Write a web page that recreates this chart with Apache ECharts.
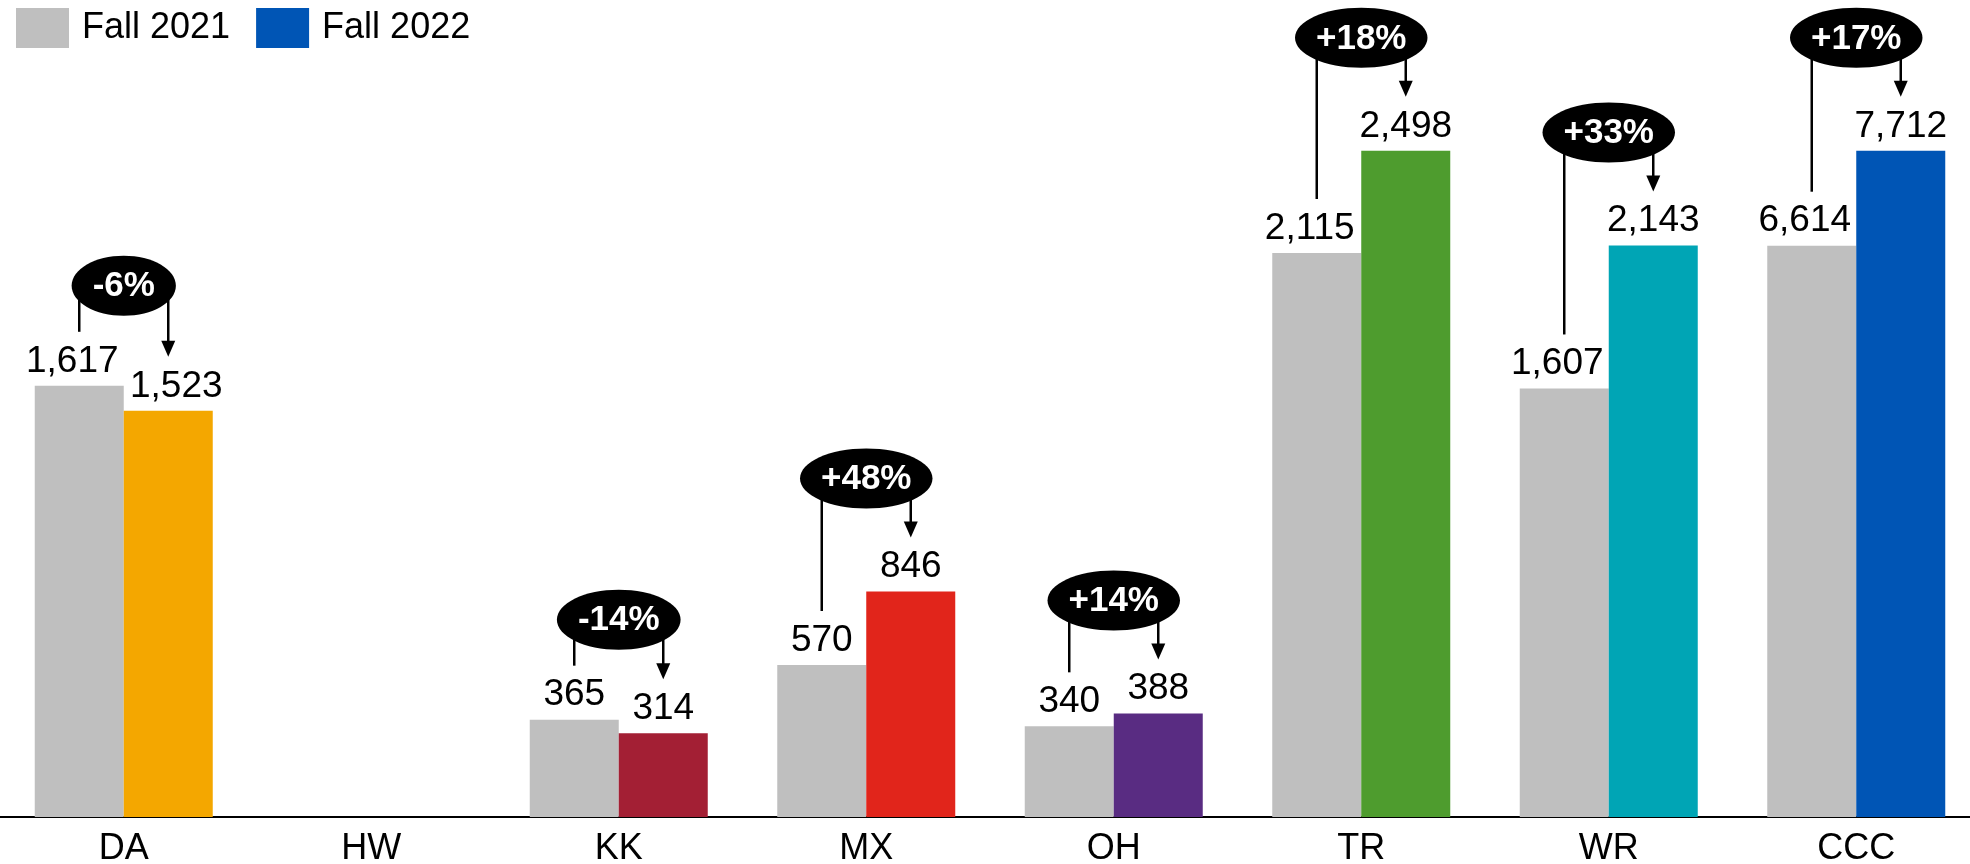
<!DOCTYPE html>
<html>
<head>
<meta charset="utf-8">
<script src="https://cdn.jsdelivr.net/npm/echarts@6/dist/echarts.min.js"></script>
<style>
	html, body { margin:0; padding:0; background:#fff; }
	#chart { width:1970px; height:864px; }
</style>
</head>
<body>
<div id="chart"></div>
<script>
	var categories = ['DA', 'HW', 'KK', 'MX', 'OH', 'TR', 'WR', 'CCC'];
	var fall2021 = [1617, null, 365, 570, 340, 2115, 1607, 6614];
	var fall2022 = [1523, null, 314, 846, 388, 2498, 2143, 7712];
	var changes = ['-6%', null, '-14%', '+48%', '+14%', '+18%', '+33%', '+17%'];
	var colors2022 = ['#F4A700', null, '#A31F34', '#E1251B', '#592C82', '#4E9C2E', '#00A5B5', '#0055B5'];
	// CCC total is drawn on a compressed scale in the original
	var drawScale = [1, 1, 1, 1, 1, 1, 1, 2498 / 7712];

	var FONT = '"Liberation Sans", Arial, sans-serif';
	var BAR_W = 89;

	function fmt(v) { return v.toLocaleString('en-US'); }

	var chart = echarts.init(document.getElementById('chart'));

	var option = {
		animation: false,
		backgroundColor: '#fff',
		legend: {
			left: 11,
			top: 3,
			itemWidth: 53,
			itemHeight: 40,
			itemGap: 26,
			icon: 'rect',
			textStyle: { fontSize: 36, color: '#000', fontFamily: FONT, padding: [0, 0, 0, 8] },
			data: ['Fall 2021', 'Fall 2022']
		},
		grid: { left: 0, right: -10, top: 17, bottom: 47, outerBoundsMode: 'none' },
		xAxis: {
			type: 'category',
			data: categories,
			axisLine: { lineStyle: { color: '#000', width: 2 } },
			axisTick: { show: false },
			axisLabel: { fontSize: 36, color: '#000', fontFamily: FONT, margin: 14 }
		},
		yAxis: { type: 'value', min: 0, max: 3000, show: false, splitLine: { show: false } },
		series: [
			{
				name: 'Fall 2021',
				type: 'bar',
				barWidth: BAR_W,
				barGap: 0,
				color: '#BFBFBF',
				data: fall2021.map(function (v, i) {
					return { value: v == null ? null : v * drawScale[i], label: { offset: [v >= 1000 ? -7 : 0, 0] } };
				}),
				label: {
					show: true, position: 'top', distance: 6, fontSize: 37, color: '#000', fontFamily: FONT,
					formatter: function (p) { var v = fall2021[p.dataIndex]; return v == null ? '' : fmt(v); }
				}
			},
			{
				name: 'Fall 2022',
				type: 'bar',
				barWidth: BAR_W,
				barGap: 0,
				color: '#0055B5',
				data: fall2022.map(function (v, i) {
					var g = fall2021[i];
					var dx = (v >= 1000 && g >= 1000 && v < g) ? 8 : 0;
					return { value: v == null ? null : v * drawScale[i], itemStyle: { color: colors2022[i] || '#0055B5' }, label: { offset: [dx, 0] } };
				}),
				label: {
					show: true, position: 'top', distance: 6, fontSize: 37, color: '#000', fontFamily: FONT,
					formatter: function (p) { var v = fall2022[p.dataIndex]; return v == null ? '' : fmt(v); }
				}
			}
		]
	};
	chart.setOption(option);

	// change bubbles with connector + arrow
	var ctx = document.createElement('canvas').getContext('2d');
	ctx.font = 'bold 35px "Liberation Sans"';
	var graphics = [];
	categories.forEach(function (c, i) {
		if (changes[i] == null) return;
		var cx = chart.convertToPixel({ xAxisIndex: 0 }, c);
		var x1 = cx - BAR_W / 2, x2 = cx + BAR_W / 2;
		var t1 = chart.convertToPixel({ yAxisIndex: 0 }, fall2021[i] * drawScale[i]);
		var t2 = chart.convertToPixel({ yAxisIndex: 0 }, fall2022[i] * drawScale[i]);
		var e1 = t1 - 54, e2 = t2 - 54;
		var ey = Math.min(t1, t2) - 54 - (t1 < t2 ? 46 : 59);
		var rx = (ctx.measureText(changes[i]).width + 42) / 2;
		graphics.push({ type: 'line', shape: { x1: x1, y1: ey, x2: x1, y2: e1 }, style: { stroke: '#000', lineWidth: 2.5 } });
		graphics.push({ type: 'line', shape: { x1: x2, y1: ey, x2: x2, y2: e2 - 14 }, style: { stroke: '#000', lineWidth: 2.5 } });
		graphics.push({ type: 'polygon', shape: { points: [[x2 - 7, e2 - 16], [x2 + 7, e2 - 16], [x2, e2]] }, style: { fill: '#000' } });
		graphics.push({ type: 'ellipse', shape: { cx: cx, cy: ey, rx: rx, ry: 30 }, style: { fill: '#000' } });
		graphics.push({
			type: 'text', x: cx, y: ey + 1,
			style: { text: changes[i], fill: '#fff', fontSize: 35, fontWeight: 'bold', fontFamily: FONT, align: 'center', verticalAlign: 'middle' }
		});
	});
	chart.setOption({ graphic: graphics });
</script>
</body>
</html>
